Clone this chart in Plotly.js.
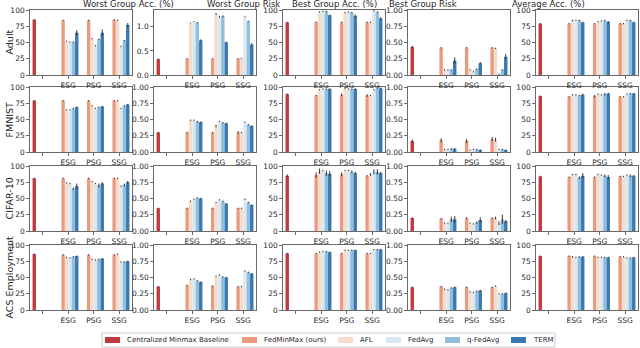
<!DOCTYPE html>
<html>
<head>
<meta charset="utf-8">
<script src="https://cdn.plot.ly/plotly-3.0.1.min.js"></script>
<style>
  html, body { margin: 0; padding: 0; background: #fff; }
  #chart { width: 640px; height: 348px; }
</style>
</head>
<body>
<div id="chart"></div>
<script>
// categories
var splits = ['ESG', 'PSG', 'SSG'];
var datasets = ['Adult', 'FMNIST', 'CIFAR-10', 'ACS Employment'];
var metrics = ['Worst Group Acc. (%)', 'Worst Group Risk', 'Best Group Acc. (%)', 'Best Group Risk', 'Average Acc. (%)'];
var methods = ['FedMinMax (ours)', 'AFL', 'FedAvg', 'q-FedAvg', 'TERM'];
var baselineName = 'Centralized Minmax Baseline';

// centralized baseline, one value per metric
var adultBase = [85, 0.33, 81, 0.43, 79];
var fmnistBase = [79, 0.30, 89, 0.17, 86];
var cifarBase = [81, 0.35, 85, 0.20, 84];
var acsBase = [86, 0.36, 87, 0.35, 83];
var adultBaseErr = [1, 0.01, 1, 0.02, 1];
var fmnistBaseErr = [1, 0.01, 1, 0.02, 1];
var cifarBaseErr = [1, 0.01, 2, 0.01, 1];
var acsBaseErr = [1, 0.01, 1, 0.01, 1];

// federated methods: rows = methods, columns = ESG, PSG, SSG
var adultWorstAcc = [[84, 84, 85], [52, 56, 84], [51, 45, 44], [51, 55, 53], [65, 65, 77]];
var adultWorstRisk = [[0.34, 0.34, 0.34], [1.08, 1.27, 0.34], [1.11, 1.21, 1.22], [1.09, 1.22, 1.12], [0.72, 0.68, 0.63]];
var adultBestAcc = [[81, 81, 81], [97, 96, 81], [98, 97, 99], [98, 96, 97], [92, 91, 87]];
var adultBestRisk = [[0.42, 0.42, 0.42], [0.08, 0.08, 0.41], [0.08, 0.05, 0.01], [0.08, 0.09, 0.08], [0.22, 0.18, 0.28]];
var adultAvgAcc = [[79, 79, 79], [84, 82, 79], [84, 83, 84], [84, 84, 84], [81, 82, 81]];

var fmnistWorstAcc = [[79, 79, 79], [65, 71, 79], [65, 67, 67], [67, 69, 71], [69, 70, 73]];
var fmnistWorstRisk = [[0.30, 0.30, 0.30], [0.49, 0.40, 0.30], [0.49, 0.47, 0.46], [0.47, 0.45, 0.42], [0.46, 0.44, 0.40]];
var fmnistBestAcc = [[87, 88, 87], [96, 98, 87], [97, 97, 96], [97, 97, 98], [97, 97, 98]];
var fmnistBestRisk = [[0.18, 0.17, 0.20], [0.04, 0.03, 0.19], [0.04, 0.04, 0.04], [0.05, 0.04, 0.04], [0.05, 0.03, 0.03]];
var fmnistAvgAcc = [[85, 86, 85], [88, 89, 85], [88, 88, 89], [87, 89, 90], [88, 90, 90]];

var cifarWorstAcc = [[81, 81, 81], [74, 76, 81], [73, 73, 69], [65, 70, 71], [69, 73, 75]];
var cifarWorstRisk = [[0.35, 0.35, 0.35], [0.46, 0.44, 0.35], [0.49, 0.48, 0.49], [0.51, 0.46, 0.44], [0.50, 0.42, 0.40]];
var cifarBestAcc = [[86, 87, 85], [92, 93, 87], [93, 93, 91], [89, 91, 91], [88, 89, 89]];
var cifarBestRisk = [[0.19, 0.20, 0.20], [0.12, 0.12, 0.20], [0.12, 0.11, 0.12], [0.18, 0.13, 0.18], [0.18, 0.17, 0.15]];
var cifarAvgAcc = [[83, 83, 84], [87, 87, 84], [87, 86, 86], [82, 85, 85], [85, 83, 85]];

var acsWorstAcc = [[85, 85, 85], [81, 78, 86], [80, 77, 74], [82, 78, 74], [83, 79, 75]];
var acsWorstRisk = [[0.38, 0.37, 0.36], [0.47, 0.52, 0.36], [0.48, 0.54, 0.60], [0.45, 0.51, 0.58], [0.43, 0.50, 0.56]];
var acsBestAcc = [[87, 87, 87], [89, 92, 87], [90, 92, 93], [90, 92, 93], [89, 92, 93]];
var acsBestRisk = [[0.36, 0.35, 0.35], [0.32, 0.28, 0.37], [0.31, 0.27, 0.25], [0.34, 0.29, 0.25], [0.35, 0.30, 0.26]];
var acsAvgAcc = [[83, 83, 82], [82, 81, 82], [81, 81, 80], [82, 81, 80], [82, 81, 81]];

// error bar half-lengths, same layout
var adultWorstAccErr = [[1, 1, 1], [1, 1, 1], [1, 1, 1], [1, 1, 1], [4, 5, 3]];
var adultWorstRiskErr = [[0.01, 0.01, 0.01], [0.01, 0.02, 0.01], [0.01, 0.02, 0.01], [0.01, 0.02, 0.01], [0.02, 0.01, 0.03]];
var adultBestAccErr = [[1, 1, 1], [1, 1, 1], [1, 1, 1], [1, 1, 1], [1, 2, 2]];
var adultBestRiskErr = [[0.01, 0.01, 0.01], [0.01, 0.01, 0.01], [0.01, 0.01, 0.01], [0.01, 0.01, 0.01], [0.05, 0.02, 0.04]];
var adultAvgAccErr = [[1, 1, 1], [1, 1, 1], [1, 1, 1], [1, 1, 1], [1, 1, 1]];

var fmnistWorstAccErr = [[1, 1, 1], [1, 1, 1], [1, 1, 1], [1, 1, 1], [1, 1, 1]];
var fmnistWorstRiskErr = [[0.01, 0.01, 0.02], [0.01, 0.02, 0.01], [0.01, 0.01, 0.01], [0.01, 0.01, 0.01], [0.01, 0.01, 0.01]];
var fmnistBestAccErr = [[1, 2, 2], [1, 1, 1], [1, 1, 1], [1, 1, 1], [1, 1, 1]];
var fmnistBestRiskErr = [[0.03, 0.03, 0.03], [0.01, 0.01, 0.03], [0.01, 0.01, 0.01], [0.01, 0.01, 0.01], [0.01, 0.01, 0.01]];
var fmnistAvgAccErr = [[1, 2, 1], [1, 1, 1], [1, 1, 1], [1, 2, 1], [2, 1, 1]];

var cifarWorstAccErr = [[1, 1, 1], [1, 1, 1], [1, 1, 1], [2, 3, 2], [4, 2, 2]];
var cifarWorstRiskErr = [[0.01, 0.01, 0.01], [0.01, 0.01, 0.01], [0.01, 0.01, 0.01], [0.01, 0.01, 0.01], [0.01, 0.01, 0.01]];
var cifarBestAccErr = [[4, 3, 1], [4, 1, 2], [1, 1, 4], [4, 2, 4], [4, 2, 2]];
var cifarBestRiskErr = [[0.01, 0.01, 0.01], [0.01, 0.01, 0.02], [0.01, 0.01, 0.03], [0.04, 0.02, 0.07], [0.05, 0.04, 0.02]];
var cifarAvgAccErr = [[1, 1, 1], [1, 1, 1], [1, 1, 1], [2, 2, 2], [4, 3, 1]];

var acsWorstAccErr = [[1, 1, 1], [1, 1, 1], [1, 1, 1], [1, 1, 1], [1, 1, 1]];
var acsWorstRiskErr = [[0.01, 0.01, 0.01], [0.01, 0.01, 0.01], [0.01, 0.01, 0.01], [0.01, 0.01, 0.01], [0.01, 0.01, 0.01]];
var acsBestAccErr = [[1, 1, 1], [1, 1, 1], [1, 1, 1], [1, 1, 1], [1, 1, 1]];
var acsBestRiskErr = [[0.01, 0.01, 0.01], [0.01, 0.01, 0.01], [0.01, 0.01, 0.01], [0.01, 0.01, 0.01], [0.01, 0.01, 0.01]];
var acsAvgAccErr = [[1, 1, 1], [1, 1, 1], [1, 1, 1], [1, 1, 1], [1, 1, 1]];

var colors = ['#c0393e', '#ea9a7f', '#f6dccd', '#dae8f1', '#90bedb', '#3a78b0'];

var panels = [
    [adultWorstAcc, adultWorstRisk, adultBestAcc, adultBestRisk, adultAvgAcc],
    [fmnistWorstAcc, fmnistWorstRisk, fmnistBestAcc, fmnistBestRisk, fmnistAvgAcc],
    [cifarWorstAcc, cifarWorstRisk, cifarBestAcc, cifarBestRisk, cifarAvgAcc],
    [acsWorstAcc, acsWorstRisk, acsBestAcc, acsBestRisk, acsAvgAcc]
];
var panelErrs = [
    [adultWorstAccErr, adultWorstRiskErr, adultBestAccErr, adultBestRiskErr, adultAvgAccErr],
    [fmnistWorstAccErr, fmnistWorstRiskErr, fmnistBestAccErr, fmnistBestRiskErr, fmnistAvgAccErr],
    [cifarWorstAccErr, cifarWorstRiskErr, cifarBestAccErr, cifarBestRiskErr, cifarAvgAccErr],
    [acsWorstAccErr, acsWorstRiskErr, acsBestAccErr, acsBestRiskErr, acsAvgAccErr]
];
var bases = [adultBase, fmnistBase, cifarBase, acsBase];
var baseErrs = [adultBaseErr, fmnistBaseErr, cifarBaseErr, acsBaseErr];

// subplot boxes in pixels
var colLeft = [30, 154, 283, 408, 536];
var colW = 102;
var rowTop = [10, 87, 166, 245];
var rowH = 65;
var W = 640, H = 348;

var font = 'DejaVu Sans, sans-serif';
var xpos = [0, 1, 2, 3];
var data = [];
var layout = {
    width: W, height: H,
    margin: {l: 0, r: 0, t: 0, b: 0},
    paper_bgcolor: '#fff', plot_bgcolor: '#fff',
    font: {family: font, size: 7.5, color: '#262626'},
    barmode: 'group', bargap: 0.2, bargroupgap: 0,
    showlegend: false,
    annotations: [],
    shapes: []
};

function errBar(arr) {
    return {type: 'data', array: arr, visible: true, color: '#333', thickness: 1, width: 0};
}

for (var r = 0; r < 4; r++) {
    for (var c = 0; c < 5; c++) {
        var k = r * 5 + c + 1;
        var xa = 'x' + (k === 1 ? '' : k);
        var ya = 'y' + (k === 1 ? '' : k);

        data.push({
            type: 'bar', name: baselineName,
            x: xpos, y: [bases[r][c], null, null, null],
            error_y: errBar([baseErrs[r][c], 0, 0, 0]),
            marker: {color: colors[0]}, xaxis: xa, yaxis: ya
        });
        for (var m = 0; m < methods.length; m++) {
            data.push({
                type: 'bar', name: methods[m],
                x: xpos, y: [null].concat(panels[r][c][m]),
                error_y: errBar([0].concat(panelErrs[r][c][m])),
                marker: {color: colors[m + 1]}, xaxis: xa, yaxis: ya
            });
        }

        var isAcc = (c % 2 === 0);
        var yax = {
            domain: [1 - (rowTop[r] + rowH) / H, 1 - rowTop[r] / H],
            anchor: xa, showgrid: false, zeroline: false,
            showline: true, mirror: true, linecolor: '#444', linewidth: 0.8,
            ticks: 'outside', ticklen: 3, tickwidth: 0.8, tickcolor: '#444',
            tickfont: {size: 7.5}
        };
        if (isAcc) {
            yax.range = [0, 100];
            yax.tickvals = [0, 25, 50, 75, 100];
        } else if (r === 0 && c === 1) {
            yax.range = [0, 1.35];
            yax.tickvals = [0, 0.5, 1.0];
            yax.tickformat = '.1f';
        } else {
            yax.range = [0, 1];
            yax.tickvals = [0, 0.25, 0.5, 0.75, 1];
            yax.tickformat = '.2f';
        }
        var xax = {
            domain: [colLeft[c] / W, (colLeft[c] + colW) / W],
            anchor: ya, range: [-0.5, 3.5], showgrid: false, zeroline: false,
            showline: true, mirror: true, linecolor: '#444', linewidth: 0.8,
            ticks: 'outside', ticklen: 3, tickwidth: 0.8, tickcolor: '#444',
            tickvals: xpos, ticktext: [''].concat(splits), tickfont: {size: 7.5}
        };
        layout['xaxis' + (k === 1 ? '' : k)] = xax;
        layout['yaxis' + (k === 1 ? '' : k)] = yax;
    }
}

// column titles
for (var c2 = 0; c2 < 5; c2++) {
    layout.annotations.push({
        text: metrics[c2], xref: 'paper', yref: 'paper',
        x: (colLeft[c2] + colW / 2) / W, y: 1 - 4 / H, yanchor: 'middle',
        showarrow: false, font: {size: 8.5, color: '#262626'}
    });
}
// row labels
for (var r2 = 0; r2 < 4; r2++) {
    layout.annotations.push({
        text: datasets[r2], xref: 'paper', yref: 'paper',
        x: 9 / W, y: 1 - (rowTop[r2] + rowH / 2) / H, xanchor: 'center', yanchor: 'middle',
        textangle: -90, showarrow: false, font: {size: 9.5, color: '#262626'}
    });
}

// legend box drawn below the grid
var legNames = [baselineName].concat(methods);
var legSwatchX = [105, 242, 338, 386, 445, 511];
var legTop = 333, legBottom = 347;
layout.shapes.push({
    type: 'rect', xref: 'paper', yref: 'paper',
    x0: 102 / W, x1: 555 / W, y0: 1 - legBottom / H, y1: 1 - legTop / H,
    line: {color: '#cccccc', width: 1}, fillcolor: '#fff'
});
for (var i = 0; i < legNames.length; i++) {
    layout.shapes.push({
        type: 'rect', xref: 'paper', yref: 'paper',
        x0: legSwatchX[i] / W, x1: (legSwatchX[i] + 15) / W,
        y0: 1 - 343 / H, y1: 1 - 337 / H,
        line: {width: 0}, fillcolor: colors[i]
    });
    layout.annotations.push({
        text: legNames[i], xref: 'paper', yref: 'paper',
        x: (legSwatchX[i] + 20) / W, y: 1 - 340 / H, xanchor: 'left', yanchor: 'middle',
        showarrow: false, font: {size: 7, color: '#262626'}
    });
}

Plotly.newPlot('chart', data, layout, {displayModeBar: false, staticPlot: true});
</script>
</body>
</html>
